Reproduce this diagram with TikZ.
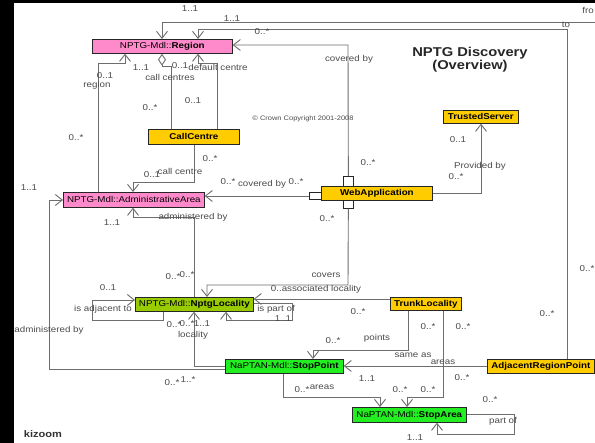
\documentclass[tikz,border=0pt]{standalone}
\usepackage{fontspec}
\setmainfont{Liberation Sans}[FakeStretch=1.15]
\usetikzlibrary{arrows.meta,calc}
\newcommand\myfs[1]{\fontsize{#1}{#1}\selectfont}
\definecolor{pinkcls}{HTML}{FF8ACB}
\definecolor{yellowcls}{HTML}{FFCC00}
\definecolor{limecls}{HTML}{99CC00}
\definecolor{greencls}{HTML}{22EE22}
\definecolor{linegray}{HTML}{6E6E6E}
\definecolor{labgray}{HTML}{4A4A4A}
\begin{document}
\begin{tikzpicture}[x=1pt,y=-1pt,
  cls/.style={draw=black!85, line width=0.7pt, inner sep=0pt, anchor=north west,
    font=\myfs{8.5}, text=black},
  pinkcls/.style={cls, fill=pinkcls},
  yellowcls/.style={cls, fill=yellowcls},
  limecls/.style={cls, fill=limecls},
  greencls/.style={cls, fill=greencls},
  port/.style={draw=black!85, fill=white, line width=0.7pt, inner sep=0pt, anchor=north west},
  lbl/.style={font=\myfs{8.5}, text=labgray, inner sep=0pt},
  assoc/.style={draw=linegray, line width=0.9pt},
  nav/.style={assoc, {Straight Barb[length=7pt,width=11pt,line width=0.9pt]}-},
  agg/.style={assoc, {Diamond[open,length=12pt,width=8pt,line width=0.9pt]}-}
]
% frame
\fill[black] (0,0) rectangle (595,443);
\fill[white] (14,3) rectangle (595,443);
\useasboundingbox (0,0) rectangle (595,443);

% classes
\node[pinkcls, minimum width=140pt, minimum height=14pt] (region) at (92,39) {NPTG-Mdl::\textbf{Region}};
\node[yellowcls, minimum width=91pt, minimum height=15pt] (callcentre) at (148,129) {\textbf{CallCentre}};
\node[pinkcls, minimum width=141pt, minimum height=15pt] (admin) at (63,192) {NPTG-Mdl::AdministrativeArea};
\node[yellowcls, minimum width=111pt, minimum height=14pt] (webapp) at (321,186) {\textbf{WebApplication}};
\node[yellowcls, minimum width=75pt, minimum height=13pt] (trusted) at (443,110) {\textbf{TrustedServer}};
\node[limecls, minimum width=118pt, minimum height=14pt] (locality) at (135,297) {NPTG-Mdl::\textbf{NptgLocality}};
\node[yellowcls, minimum width=71pt, minimum height=13pt] (trunk) at (390,297) {\textbf{TrunkLocality}};
\node[greencls, minimum width=118pt, minimum height=14pt] (stoppoint) at (225,359) {NaPTAN-Mdl::\textbf{StopPoint}};
\node[yellowcls, minimum width=107pt, minimum height=14pt] (adjpoint) at (487,359) {\textbf{AdjacentRegionPoint}};
\node[greencls, minimum width=114pt, minimum height=15pt] (stoparea) at (352,407) {NaPTAN-Mdl::\textbf{StopArea}};

% ports on the web application
\node[port, minimum width=12pt, minimum height=7pt] (wl) at (309,192) {};
\node[port, minimum width=10pt, minimum height=10pt] (wt) at (343,176) {};
\node[port, minimum width=10pt, minimum height=8pt] (wb) at (343,200) {};

% free end of the wrapped association
\coordinate (fro) at (595,22);

% associations
\draw[nav] (region.north -| 162,0) -- (162,22) -- (fro);
\draw[nav] (region.north -| 198,0) -- (198,29) -- (567,29) -- (adjpoint.north -| 567,0);
\draw[nav] (region.east |- 0,45) -- (348,45) -- (wt.north);
\draw[nav] (region.south -| 125,0) -- (125,63) -- (98,63) -- (admin.north -| 98,0);
\draw[agg] (region.south -| 162,0) -- (162,66) -- (171,66) -- (callcentre.north -| 171,0);
\draw[nav] (region.south -| 198,0) -- (198,63) -- (217,63) -- (callcentre.north -| 217,0);
\draw[nav] (admin.north -| 133,0) -- (133,182) -- (194,182) -- (callcentre.south -| 194,0);
\draw[nav] (admin.east |- 0,196) -- (wl.west |- 0,196);
\draw[nav] (admin.south -| 133,0) -- (133,217) -- (194,217) -- (locality.north -| 194,0);
\draw[nav] (admin.west |- 0,200) -- (49,200) -- (49,369) -- (stoppoint.west |- 0,369);
\draw[nav] (locality.south -| 194,0) -- (194,366) -- (stoppoint.west |- 0,366);
\draw[nav] (locality.west |- 0,300) -- (92,300) -- (92,320) -- (163,320) -- (locality.south -| 163,0);
\draw[nav] (locality.south -| 226,0) -- (226,320) -- (292,320) -- (292,303) -- (locality.east |- 0,303);
\draw[nav] (locality.north -| 207,0) -- (207,285) -- (348,285) -- (wb.south);
\draw[nav] (locality.east |- 0,299) -- (trunk.west |- 0,299);
\draw[nav] (stoppoint.north -| 313,0) -- (313,350) -- (408,350) -- (trunk.south -| 408,0);
\draw[nav] (stoparea.north -| 407,0) -- (407,397) -- (443,397) -- (trunk.south -| 443,0);
\draw[nav] (stoppoint.east |- 0,366) -- (adjpoint.west |- 0,366);
\draw[nav] (stoparea.north -| 380,0) -- (380,397) -- (283,397) -- (stoppoint.south -| 283,0);
\draw[nav] (stoparea.south -| 437,0) -- (437,434) -- (514,434) -- (514,414) -- (stoparea.east |- 0,414);
\draw[nav] (trusted.south -| 481,0) -- (481,193) -- (webapp.east |- 0,193);

% title and notes
\node[font=\myfs{12.8}\bfseries, text=black!85, align=center, inner sep=0pt] (title) at (470,60) {NPTG Discovery\\(Overview)};
\node[font=\myfs{6.5}, text=labgray, inner sep=0pt] (copy) at (303,119) {\textcopyright{} Crown Copyright 2001-2008};
\node[font=\myfs{9.6}\bfseries, text=black!80, inner sep=0pt] (kizoom) at (43,434) {kizoom};

% role names and multiplicities
\node[lbl] (m1) at (190,9) {1..1};
\node[lbl] (m2) at (232,19) {1..1};
\node[lbl] (m3) at (262,32) {0..*};
\node[lbl] (r1) at (588,10) {fro};
\node[lbl] (r2) at (566,25) {to};
\node[lbl] (r3) at (349,59) {covered by};
\node[lbl] (m4) at (105,76) {0..1};
\node[lbl] (r4) at (97,85) {region};
\node[lbl] (m5) at (141,68) {1..1};
\node[lbl] (m6) at (180,66) {0..1};
\node[lbl] (r5) at (170,77) {call centres};
\node[lbl] (r6) at (218,67) {default centre};
\node[lbl] (m7) at (150,108) {0..*};
\node[lbl] (m8) at (193,101) {0..1};
\node[lbl] (m9) at (76,138) {0..*};
\node[lbl] (m10) at (458,140) {0..1};
\node[lbl] (r7) at (480,166) {Provided by};
\node[lbl] (m11) at (456,177) {0..*};
\node[lbl] (m12) at (368,163) {0..*};
\node[lbl] (m13) at (210,159) {0..*};
\node[lbl] (r8) at (180,171) {call centre};
\node[lbl] (m14) at (152,175) {0..1};
\node[lbl] (m15) at (29,188) {1..1};
\node[lbl] (m16) at (228,182) {0..*};
\node[lbl] (r9) at (262,184) {covered by};
\node[lbl] (m17) at (296,182) {0..*};
\node[lbl] (m18) at (112,223) {1..1};
\node[lbl] (r10) at (193,217) {administered by};
\node[lbl] (m19) at (327,219) {0..*};
\node[lbl] (m20) at (173,277) {0..*};
\node[lbl] (m21) at (187,275) {0..*};
\node[lbl] (r11) at (326,275) {covers};
\node[lbl] (r12) at (316,289) {0..associated locality};
\node[lbl] (m22) at (108,288) {0..1};
\node[lbl] (r13) at (103,309) {is adjacent to};
\node[lbl] (r14) at (276,309) {is part of};
\node[lbl] (m23) at (283,319) {1..1};
\node[lbl] (m24) at (358,312) {0..*};
\node[lbl] (m25) at (174,325) {0..*};
\node[lbl] (m26) at (187,324) {0..*};
\node[lbl] (m27) at (202,324) {1..1};
\node[lbl] (r15) at (193,335) {locality};
\node[lbl] (r16) at (49,330) {administered by};
\node[lbl] (r17) at (377,338) {points};
\node[lbl] (m28) at (333,341) {0..*};
\node[lbl] (m29) at (428,327) {0..*};
\node[lbl] (m30) at (463,327) {0..*};
\node[lbl] (m31) at (587,269) {0..*};
\node[lbl] (m32) at (547,314) {0..*};
\node[lbl] (r18) at (413,355) {same as};
\node[lbl] (r19) at (443,362) {areas};
\node[lbl] (m33) at (367,379) {1..1};
\node[lbl] (m34) at (462,378) {0..*};
\node[lbl] (m35) at (172,383) {0..*};
\node[lbl] (m36) at (188,380) {1..*};
\node[lbl] (m37) at (302,390) {0..*};
\node[lbl] (r20) at (322,387) {areas};
\node[lbl] (m38) at (400,390) {0..*};
\node[lbl] (m39) at (428,390) {0..*};
\node[lbl] (m40) at (490,400) {0..*};
\node[lbl] (r21) at (503,421) {part of};
\node[lbl] (m41) at (415,438) {1..1};
\end{tikzpicture}
\end{document}
